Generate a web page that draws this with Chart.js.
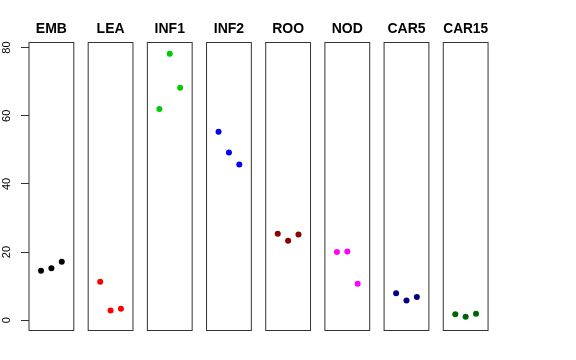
<!DOCTYPE html>
<html>
<head>
<meta charset="utf-8">
<script src="https://cdn.jsdelivr.net/npm/chart.js@4"></script>
<style>
  body { margin: 0; background: #fff; }
  #wrap { position: relative; width: 576px; height: 360px; overflow: hidden; background: #fff; }
  #wrap canvas { position: absolute; top: 0; }
</style>
</head>
<body>
<div id="wrap"></div>
<script>
// panel names and point colours
const categories = ['EMB', 'LEA', 'INF1', 'INF2', 'ROO', 'NOD', 'CAR5', 'CAR15'];
const colors = ['#000000', '#FF0000', '#00CD00', '#0000FF', '#8B0000', '#FF00FF', '#000080', '#006400'];

// three replicates per panel
const replicates = [1, 2, 3];
const emb = [14.5, 15.3, 17.2];
const lea = [11.3, 2.9, 3.4];
const inf1 = [62.0, 78.2, 68.2];
const inf2 = [55.3, 49.2, 45.7];
const roo = [25.4, 23.3, 25.2];
const nod = [20.0, 20.2, 10.7];
const car5 = [7.9, 5.8, 6.8];
const car15 = [1.8, 1.0, 1.9];
const series = [emb, lea, inf1, inf2, roo, nod, car5, car15];

const yTicks = [0, 20, 40, 60, 80];

// layout of the panels
const firstLeft = 29;
const step = 59.18;
const boxWidth = 44.8;
const side = 8;

const boxPlugin = {
    id: 'box',
    beforeDatasetsDraw(chart) {
        const a = chart.chartArea;
        const c = chart.ctx;
        c.save();
        c.strokeStyle = '#333';
        c.lineWidth = 1;
        c.strokeRect(a.left, a.top, a.right - a.left, a.bottom - a.top);
        c.restore();
    }
};

const wrap = document.getElementById('wrap');

categories.forEach((name, i) => {
    const boxLeft = firstLeft + step * i;
    const canvasLeft = i === 0 ? 0 : Math.floor(boxLeft) - side;
    const padLeft = i === 0 ? 0 : boxLeft - canvasLeft;
    const canvasWidth = Math.ceil(boxLeft + boxWidth) + side - canvasLeft;
    const padRight = canvasLeft + canvasWidth - (boxLeft + boxWidth);

    const canvas = document.createElement('canvas');
    canvas.width = canvasWidth;
    canvas.height = 360;
    canvas.style.left = canvasLeft + 'px';
    wrap.appendChild(canvas);

    const yScale = {
        type: 'linear',
        min: -3.0,
        max: 81.5,
        display: i === 0,
        afterBuildTicks: s => { s.ticks = yTicks.map(v => ({ value: v })); },
        border: { display: false },
        grid: {
            drawOnChartArea: false,
            drawTicks: true,
            tickLength: 8,
            tickColor: '#333',
            lineWidth: 1
        },
        ticks: {
            minRotation: 90,
            maxRotation: 90,
            crossAlign: 'center',
            padding: 7.9,
            color: '#000',
            font: { family: 'Liberation Sans, Arial, sans-serif', size: 11 }
        }
    };
    if (i === 0) {
        yScale.afterFit = s => { s.width = firstLeft; };
    }

    new Chart(canvas.getContext('2d'), {
        type: 'scatter',
        data: {
            datasets: [{
                label: name,
                data: replicates.map((r, j) => ({ x: r, y: series[i][j] })),
                backgroundColor: colors[i],
                borderColor: colors[i],
                borderWidth: 0,
                pointRadius: 3,
                pointHoverRadius: 3
            }]
        },
        options: {
            responsive: false,
            animation: false,
            layout: { padding: { left: padLeft, right: padRight, top: 0, bottom: 29.5 } },
            plugins: {
                legend: { display: false },
                tooltip: { enabled: false },
                title: {
                    display: true,
                    text: name,
                    fullSize: false,
                    color: '#000',
                    font: { family: 'Liberation Sans, Arial, sans-serif', size: 14, weight: 'bold' },
                    padding: { top: 20.3, bottom: 5.4 }
                }
            },
            scales: {
                x: {
                    type: 'linear',
                    min: -0.16,
                    max: 4.16,
                    display: false
                },
                y: yScale
            }
        },
        plugins: [boxPlugin]
    });
});
</script>
</body>
</html>
